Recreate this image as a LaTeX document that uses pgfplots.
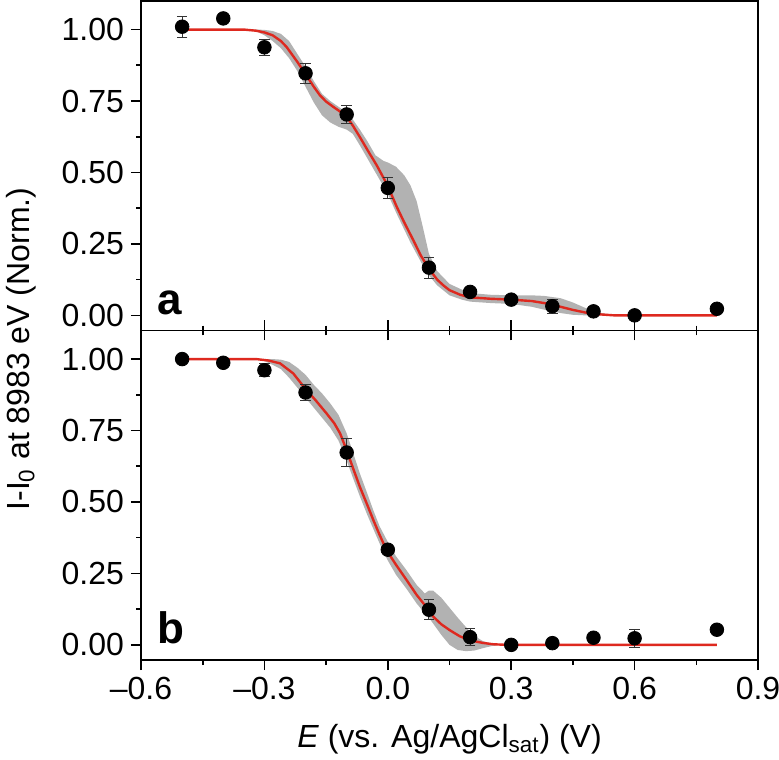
\documentclass[border=0pt]{standalone}
\usepackage{pgfplots}
\pgfplotsset{compat=1.18}
\usepackage{fontspec}
\setmainfont{Liberation Sans}
\definecolor{fitred}{rgb}{0.87,0.16,0.12}
\definecolor{bandgray}{gray}{0.70}
\definecolor{errgray}{gray}{0.2}

\pgfplotsset{
  panel/.style={
    scale only axis, width=308.5pt, height=164.75pt,
    xmin=-0.6, xmax=0.9, ymin=-0.053, ymax=1.10,
    axis line style={line width=0.9pt},
    every tick/.style={line width=0.8pt, black},
    ytick={0,0.25,0.5,0.75,1}, yticklabels={0.00,0.25,0.50,0.75,1.00},
    minor y tick num=1, ytick pos=left, ytick align=outside,
    xtick={-0.6,-0.3,0,0.3,0.6,0.9}, minor x tick num=1,
    major tick length=5pt, minor tick length=2.5pt,
    tick label style={font=\fontsize{16}{19}\selectfont},
    label style={font=\fontsize{16}{19}\selectfont},
    anchor=south west,
  },
  pts/.style={only marks, mark=*, mark size=3.4pt, black,
    error bars/.cd, y dir=both, y explicit,
    error bar style={line width=0.5pt, errgray},
    error mark options={rotate=90, mark size=2.6pt, line width=0.5pt, errgray}},
  fit/.style={fitred, line width=1.2pt, no marks},
  band/.style={fill=bandgray, draw=none, no marks},
}

\pgfplotstableread{
x y e
-0.5 1.010 0.036
-0.4 1.039 0.0
-0.3 0.938 0.027
-0.2 0.847 0.036
-0.1 0.703 0.032
0.0 0.446 0.036
0.1 0.167 0.037
0.2 0.082 0.015
0.3 0.055 0.012
0.4 0.032 0.025
0.5 0.014 0.012
0.6 0.000 0.010
0.8 0.023 0.010
}\ptsA

\pgfplotstableread{
x y e
-0.5 1.000 0.010
-0.4 0.987 0.010
-0.3 0.961 0.022
-0.2 0.883 0.028
-0.1 0.673 0.050
0.0 0.333 0.010
0.1 0.123 0.034
0.2 0.027 0.030
0.3 0.000 0.010
0.4 0.006 0.010
0.5 0.025 0.010
0.6 0.023 0.032
0.8 0.053 0.010
}\ptsB

\begin{document}
\begin{tikzpicture}
% ---------------- panel a ----------------
\begin{axis}[panel, at={(0,164.75pt)},
  xtick pos=bottom, xtick align=outside, xticklabels={}]
\addplot[band] coordinates {
(-0.35,1.0) (-0.32,1.0) (-0.30,0.999) (-0.28,0.995) (-0.26,0.985) (-0.24,0.96)
(-0.22,0.915) (-0.20,0.87) (-0.18,0.82) (-0.16,0.775) (-0.14,0.75) (-0.12,0.73)
(-0.10,0.71) (-0.085,0.685) (-0.068,0.65) (-0.05,0.61) (-0.03,0.56) (-0.01,0.54)
(0.00,0.535) (0.02,0.52) (0.04,0.49) (0.055,0.455) (0.07,0.40) (0.085,0.31)
(0.10,0.215) (0.12,0.155) (0.15,0.11) (0.18,0.09) (0.2,0.078) (0.25,0.072)
(0.3,0.07) (0.35,0.07) (0.38,0.068) (0.42,0.06) (0.45,0.045) (0.48,0.026)
(0.52,0.008) (0.55,0.0)
(0.52,0.0) (0.48,0.0) (0.45,0.002) (0.42,0.008) (0.38,0.02) (0.35,0.03)
(0.3,0.04) (0.25,0.043) (0.2,0.048) (0.18,0.055) (0.15,0.07) (0.12,0.105)
(0.10,0.14) (0.085,0.175) (0.07,0.215) (0.055,0.255) (0.04,0.30) (0.02,0.36)
(0.00,0.425) (-0.01,0.45) (-0.03,0.50) (-0.05,0.55) (-0.068,0.595) (-0.085,0.635)
(-0.10,0.65) (-0.12,0.66) (-0.14,0.675) (-0.16,0.70) (-0.18,0.745) (-0.20,0.80)
(-0.22,0.855) (-0.24,0.90) (-0.26,0.935) (-0.28,0.96) (-0.30,0.98) (-0.32,0.994)
} -- cycle;
\addplot[fit] coordinates {
(-0.5,1.0) (-0.35,1.0) (-0.32,0.996) (-0.3,0.99) (-0.28,0.98) (-0.26,0.96)
(-0.246,0.939) (-0.22,0.887) (-0.2,0.844) (-0.18,0.80) (-0.165,0.770) (-0.15,0.748)
(-0.132,0.729) (-0.115,0.712) (-0.1,0.695) (-0.085,0.664) (-0.068,0.624) (-0.05,0.58)
(-0.027,0.525) (-0.01,0.48) (0.0,0.452) (0.022,0.379) (0.04,0.325) (0.062,0.263)
(0.08,0.21) (0.1,0.163) (0.12,0.125) (0.135,0.105) (0.15,0.088) (0.176,0.072)
(0.2,0.063) (0.25,0.058) (0.3,0.055) (0.35,0.05) (0.38,0.043) (0.42,0.03)
(0.45,0.019) (0.48,0.01) (0.51,0.004) (0.55,0.0) (0.8,0.0)
};
\addplot[pts] table[x=x, y=y, y error=e] {\ptsA};
\node[anchor=base west, font=\fontsize{22}{26}\selectfont\bfseries] at (rel axis cs:0.016,0.05) {a};
\end{axis}
% ---------------- panel b ----------------
\begin{axis}[panel, at={(0,0)},
  xtick pos=both, xtick align=outside,
  xticklabels={\textendash0.6,\textendash0.3,0.0,0.3,0.6,0.9},
  xlabel={\textit{E} (vs. Ag/AgCl\textsubscript{sat}) (V)},
  xlabel style={yshift=-5.5pt}]
\addplot[band] coordinates {
(-0.32,1.0) (-0.30,1.0) (-0.28,1.0) (-0.26,0.998) (-0.24,0.99) (-0.22,0.97)
(-0.20,0.945) (-0.18,0.91) (-0.16,0.88) (-0.14,0.845) (-0.12,0.805) (-0.10,0.74)
(-0.085,0.675) (-0.068,0.60) (-0.05,0.53) (-0.035,0.47) (-0.02,0.415) (0.0,0.36)
(0.02,0.31) (0.046,0.26) (0.07,0.21) (0.09,0.18) (0.10,0.19) (0.11,0.19)
(0.13,0.165) (0.15,0.13) (0.17,0.095) (0.19,0.062) (0.21,0.032) (0.23,0.014)
(0.25,0.005) (0.27,0.0)
(0.25,-0.005) (0.23,-0.012) (0.21,-0.02) (0.19,-0.022) (0.17,-0.018) (0.15,0.0)
(0.13,0.035) (0.11,0.075) (0.10,0.095) (0.09,0.11) (0.07,0.145) (0.046,0.195)
(0.02,0.245) (0.0,0.295) (-0.02,0.355) (-0.035,0.405) (-0.05,0.455) (-0.068,0.52)
(-0.085,0.585) (-0.10,0.645) (-0.12,0.715) (-0.14,0.76) (-0.16,0.795) (-0.18,0.83)
(-0.20,0.865) (-0.22,0.90) (-0.24,0.935) (-0.26,0.965) (-0.28,0.98) (-0.30,0.993)
} -- cycle;
\addplot[fit] coordinates {
(-0.5,1.0) (-0.32,1.0) (-0.29,0.995) (-0.262,0.985) (-0.23,0.95) (-0.201,0.897)
(-0.175,0.855) (-0.149,0.81) (-0.13,0.775) (-0.116,0.74) (-0.1,0.681) (-0.085,0.62)
(-0.068,0.553) (-0.05,0.49) (-0.035,0.436) (-0.02,0.385) (-0.003,0.331) (0.02,0.28)
(0.046,0.226) (0.07,0.175) (0.099,0.123) (0.111,0.098) (0.13,0.072) (0.151,0.051)
(0.175,0.03) (0.2,0.016) (0.23,0.007) (0.257,0.002) (0.29,0.0) (0.8,0.0)
};
\addplot[pts] table[x=x, y=y, y error=e] {\ptsB};
\node[anchor=base west, font=\fontsize{22}{26}\selectfont\bfseries] at (rel axis cs:0.016,0.05) {b};
\end{axis}
\node[rotate=90, font=\fontsize{16}{19}\selectfont] at (-60pt,155.5pt) {I-I\textsubscript{0} at 8983 eV (Norm.)};
\pgfresetboundingbox
\path[use as bounding box] (-70.5pt,-49.5pt) rectangle (319pt,330pt);
\end{tikzpicture}
\end{document}
